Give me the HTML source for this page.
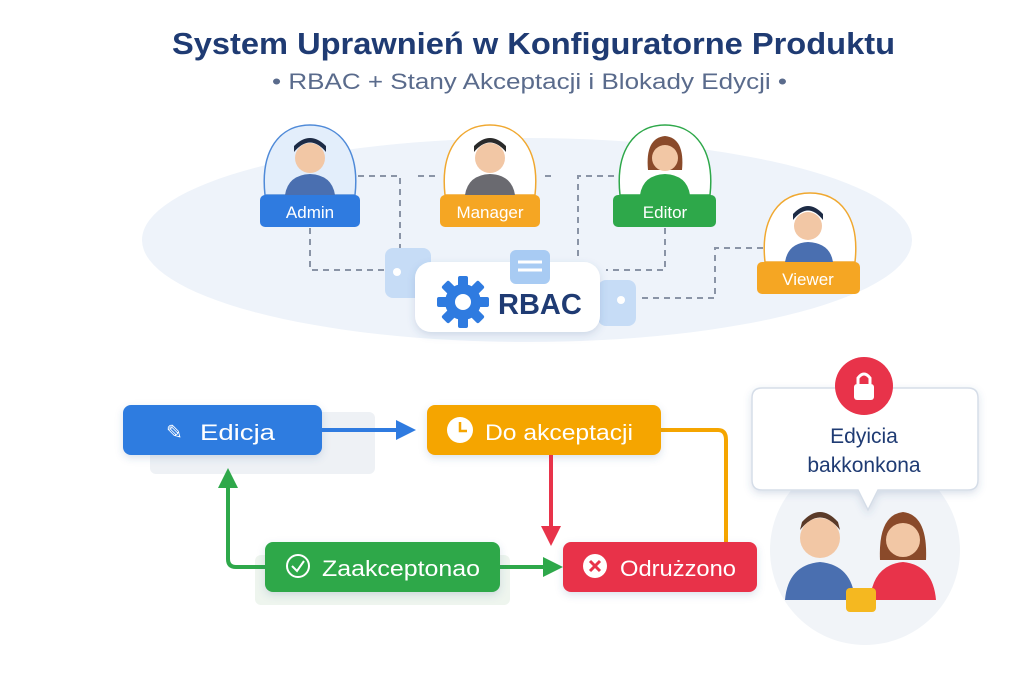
<!DOCTYPE html>
<html><head><meta charset="utf-8"><style>
html,body{margin:0;padding:0;background:#fff;}
svg{display:block;font-family:"Liberation Sans",sans-serif;}
</style></head><body>
<svg width="1024" height="683" viewBox="0 0 1024 683" xmlns="http://www.w3.org/2000/svg">
<defs>
<filter id="sh" x="-20%" y="-20%" width="140%" height="160%"><feDropShadow dx="0" dy="3" stdDeviation="4" flood-color="#3a5a90" flood-opacity="0.18"/></filter>
</defs>
<text x="172" y="54" font-size="31" font-weight="bold" fill="#1f3b73" textLength="723" lengthAdjust="spacingAndGlyphs">System Uprawnień w Konfiguratorne Produktu</text>
<text x="272" y="89" font-size="22" fill="#5a6b8c" textLength="515" lengthAdjust="spacingAndGlyphs">•  RBAC + Stany Akceptacji i Blokady Edycji  •</text>
<ellipse cx="527" cy="240" rx="385" ry="102" fill="#eef3fa"/>
<g stroke="#8a94a6" stroke-width="2" stroke-dasharray="6,5" fill="none">
<path d="M310,228 V270 H388"/>
<path d="M358,176 H400 V252"/>
<path d="M418,176 H438"/>
<path d="M545,176 H556"/>
<path d="M614,176 H578 V256"/>
<path d="M665,228 V270 H606"/>
<path d="M763,248 H715 V298 H640"/>
</g>
<rect x="385" y="248" width="46" height="50" rx="8" fill="#c6dcf6"/>
<rect x="598" y="280" width="38" height="46" rx="8" fill="#c6dcf6"/>
<circle cx="397" cy="272" r="4" fill="#fff"/><circle cx="621" cy="300" r="4" fill="#fff"/>
<rect x="415" y="262" width="185" height="70" rx="16" fill="#fff" filter="url(#sh)"/>
<rect x="510" y="250" width="40" height="34" rx="6" fill="#a8cbf3"/>
<g stroke="#fff" stroke-width="3"><line x1="518" y1="262" x2="542" y2="262"/><line x1="518" y1="270" x2="542" y2="270"/></g>
<g transform="translate(463,302)" fill="#2f7be0">
<circle r="18"/>
<g><rect x="-5" y="-26" width="10" height="52" rx="2"/><rect x="-5" y="-26" width="10" height="52" rx="2" transform="rotate(45)"/><rect x="-5" y="-26" width="10" height="52" rx="2" transform="rotate(90)"/><rect x="-5" y="-26" width="10" height="52" rx="2" transform="rotate(135)"/></g>
<circle r="8" fill="#fff"/>
</g>
<text x="498" y="314" font-size="29" font-weight="bold" fill="#1f3b73">RBAC</text>
<g>
<path d="M265,195 C260,150 280,125 310,125 C340,125 360,150 355,195Z" fill="#e3eefb" stroke="#4f8ad8" stroke-width="1.5"/>
<circle cx="310" cy="158" r="15" fill="#f2c7a5"/><path d="M294,152 Q310,133 326,152 L326,146 Q310,130 294,146Z" fill="#1d2b45"/>
<path d="M285,195 Q288,175 310,174 Q332,175 335,195Z" fill="#4a6fb0"/>
<rect x="260" y="195" width="100" height="32" rx="5" fill="#2f7be0"/>
<text x="310" y="218" text-anchor="middle" font-size="17" fill="#fff">Admin</text>
</g>
<g>
<path d="M445,195 C440,150 460,125 490,125 C520,125 540,150 535,195Z" fill="#fff" stroke="#f0a830" stroke-width="1.5"/>
<circle cx="490" cy="158" r="15" fill="#f2c7a5"/><path d="M474,152 Q490,133 506,152 L506,146 Q490,130 474,146Z" fill="#2a2a2a"/>
<path d="M465,195 Q468,175 490,174 Q512,175 515,195Z" fill="#6a6a70"/>
<rect x="440" y="195" width="100" height="32" rx="5" fill="#f5a623"/>
<text x="490" y="218" text-anchor="middle" font-size="17" fill="#fff">Manager</text>
</g>
<g>
<path d="M620,195 C615,150 635,125 665,125 C695,125 715,150 710,195Z" fill="#fff" stroke="#2ea84a" stroke-width="1.5"/>
<path d="M648,170 Q645,138 665,136 Q685,138 682,170Z" fill="#8a4a2a"/>
<circle cx="665" cy="158" r="13" fill="#f2c7a5"/>
<path d="M640,195 Q643,175 665,174 Q687,175 690,195Z" fill="#2ea84a"/>
<rect x="613" y="195" width="103" height="32" rx="5" fill="#2ea84a"/>
<text x="665" y="218" text-anchor="middle" font-size="17" fill="#fff">Editor</text>
</g>
<g>
<path d="M765,262 C760,217 780,193 810,193 C840,193 860,217 855,262Z" fill="#fff" stroke="#f0a830" stroke-width="1.5"/>
<circle cx="808" cy="226" r="14" fill="#f2c7a5"/><path d="M793,220 Q808,201 823,220 L823,214 Q808,198 793,214Z" fill="#1d2b45"/>
<path d="M785,262 Q788,243 808,242 Q830,243 833,262Z" fill="#4a6fb0"/>
<rect x="757" y="262" width="103" height="32" rx="5" fill="#f5a623"/>
<text x="808" y="285" text-anchor="middle" font-size="17" fill="#fff">Viewer</text>
</g>
<rect x="150" y="412" width="225" height="62" rx="6" fill="#eef1f5"/>
<rect x="255" y="555" width="255" height="50" rx="6" fill="#eef5ee"/>
<rect x="123" y="405" width="199" height="50" rx="8" fill="#2f7be0" filter="url(#sh)"/>
<text x="166" y="439" font-size="20" fill="#fff">✎</text>
<text x="200" y="440" font-size="22" fill="#fff" textLength="75" lengthAdjust="spacingAndGlyphs">Edicja</text>
<line x1="322" y1="430" x2="398" y2="430" stroke="#2f7be0" stroke-width="4"/>
<path d="M396,420 L416,430 L396,440Z" fill="#2f7be0"/>
<path d="M661,430 H718 Q726,430 726,440 V545" stroke="#f5a500" stroke-width="4" fill="none"/>
<rect x="427" y="405" width="234" height="50" rx="8" fill="#f5a500" filter="url(#sh)"/>
<circle cx="460" cy="430" r="13" fill="#fff"/><path d="M460,422 V431 H467" stroke="#f5a500" stroke-width="2.5" fill="none"/>
<text x="485" y="440" font-size="22" fill="#fff" textLength="148" lengthAdjust="spacingAndGlyphs">Do akceptacji</text>
<line x1="551" y1="455" x2="551" y2="528" stroke="#e8334a" stroke-width="4"/>
<path d="M541,526 L551,546 L561,526Z" fill="#e8334a"/>
<path d="M265,567 H236 Q228,567 228,559 V485" stroke="#2ea84a" stroke-width="4" fill="none"/>
<path d="M218,488 L228,468 L238,488Z" fill="#2ea84a"/>
<line x1="500" y1="567" x2="545" y2="567" stroke="#2ea84a" stroke-width="4"/>
<path d="M543,557 L563,567 L543,577Z" fill="#2ea84a"/>
<rect x="265" y="542" width="235" height="50" rx="8" fill="#2ea84a" filter="url(#sh)"/>
<circle cx="298" cy="566" r="11" fill="none" stroke="#fff" stroke-width="2"/><path d="M292,566 L297,571 L304,561" stroke="#fff" stroke-width="2" fill="none"/>
<text x="322" y="576" font-size="22" fill="#fff" textLength="158" lengthAdjust="spacingAndGlyphs">Zaakceptonao</text>
<rect x="563" y="542" width="194" height="50" rx="8" fill="#e8334a" filter="url(#sh)"/>
<circle cx="595" cy="566" r="12" fill="#fff"/><path d="M590,561 L600,571 M600,561 L590,571" stroke="#e8334a" stroke-width="3"/>
<text x="620" y="576" font-size="22" fill="#fff" textLength="116" lengthAdjust="spacingAndGlyphs">Odrużzono</text>
<circle cx="865" cy="550" r="95" fill="#f1f4f8"/>
<path d="M762,388 H968 Q978,388 978,398 V480 Q978,490 968,490 H878 L868,510 L858,490 H762 Q752,490 752,480 V398 Q752,388 762,388Z" fill="#fff" stroke="#d5dde8" stroke-width="1.5" filter="url(#sh)"/>
<circle cx="864" cy="386" r="29" fill="#e8334a"/>
<rect x="854" y="384" width="20" height="16" rx="3" fill="#fff"/>
<path d="M858,384 V378 Q864,370 870,378 V384" stroke="#fff" stroke-width="3" fill="none"/>
<text x="864" y="443" text-anchor="middle" font-size="21" fill="#1f3b73">Edyicia</text>
<text x="864" y="472" text-anchor="middle" font-size="21" fill="#1f3b73">bakkonkona</text>
<path d="M785,600 Q788,565 820,562 Q852,565 855,600Z" fill="#4a6fb0"/>
<circle cx="820" cy="538" r="20" fill="#f2c7a5"/><path d="M800,530 Q820,505 840,530 L838,522 Q820,502 802,522Z" fill="#5a3a28"/>
<path d="M870,600 Q873,565 903,562 Q933,565 936,600Z" fill="#e8334a"/>
<path d="M880,560 Q878,515 903,512 Q928,515 926,560Z" fill="#8a4a2a"/>
<circle cx="903" cy="540" r="17" fill="#f2c7a5"/>
<rect x="846" y="588" width="30" height="24" rx="4" fill="#f5b820"/>
</svg>
</body></html>
